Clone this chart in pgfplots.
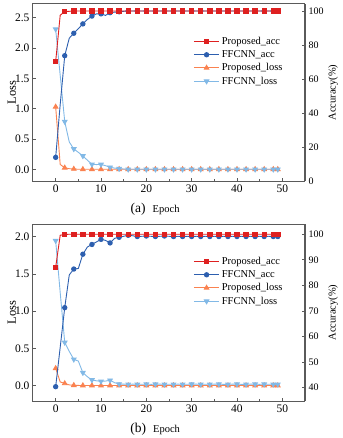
\documentclass[border=0pt]{standalone}
\usepackage{fontspec}
\setmainfont{Liberation Serif}
\usepackage{pgfplots}
\usepackage{pgfplotstable}
\pgfplotsset{compat=1.18}
\definecolor{cred}{RGB}{222,32,32}
\definecolor{cblue}{RGB}{45,95,175}
\definecolor{corange}{RGB}{250,130,80}
\definecolor{clight}{RGB}{130,185,230}
\definecolor{axgray}{RGB}{90,90,90}

\pgfplotstableread{
epoch pa fa pl fl
0 70.2 13.9 1.03 2.31
1 97.5 45.0 0.08 1.55
2 99.6 73.7 0.025 0.786
3 99.8 84.0 0.01 0.45
4 100 86.9 0.005 0.335
5 100 89.6 0 0.28
6 100 92.4 0 0.22
7 100 95.0 0 0.15
8 100 97.0 0 0.082
9 100 98.3 0 0.078
10 100 98.3 0 0.08
11 100 97.4 0 0.06
12 100 99.0 0 0.033
13 100 99.3 0 0.02
14 100 99.5 0 0.01
15 100 99.8 0 0.005
16 100 100 0 0
17 100 100 0 0
18 100 100 0 0
19 100 100 0 0
20 100 100 0 0
21 100 100 0 0
22 100 100 0 0
23 100 100 0 0
24 100 100 0 0
25 100 100 0 0
26 100 100 0 0
27 100 100 0 0
28 100 100 0 0
29 100 100 0 0
30 100 100 0 0
31 100 100 0 0
32 100 100 0 0
33 100 100 0 0
34 100 100 0 0
35 100 100 0 0
36 100 100 0 0
37 100 100 0 0
38 100 100 0 0
39 100 100 0 0
40 100 100 0 0
41 100 100 0 0
42 100 100 0 0
43 100 100 0 0
44 100 100 0 0
45 100 100 0 0
46 100 100 0 0
47 100 100 0 0
48 100 100 0 0
49 100 100 0 0
}\dataA

\pgfplotstableread{
epoch pa fa pl fl
0 87.1 40.4 0.233 1.946
1 99.6 55.8 0.05 1.25
2 99.9 71.3 0.03 0.58
3 100 84.1 0.01 0.46
4 100 86.4 0.005 0.353
5 100 86.6 0.003 0.33
6 100 92.2 0.002 0.174
7 100 95.0 0.002 0.12
8 100 96.0 0.002 0.076
9 100 97.0 0.002 0.065
10 100 98.0 0.002 0.058
11 100 97.6 0.002 0.062
12 100 96.6 0.002 0.072
13 100 98.4 0.002 0.04
14 100 98.8 0.002 0.022
15 100 99.2 0.002 0.02
16 100 99.6 0.002 0.018
17 100 99.4 0.002 0.02
18 100 99.1 0.002 0.018
19 100 99.2 0.002 0.019
20 100 99.3 0.002 0.02
21 100 99.2 0.002 0.018
22 100 99.1 0.002 0.019
23 100 99.2 0.002 0.02
24 100 99.3 0.002 0.018
25 100 99.2 0.002 0.019
26 100 99.1 0.002 0.018
27 100 99.2 0.002 0.02
28 100 99.1 0.002 0.018
29 100 99.2 0.002 0.019
30 100 99.1 0.002 0.022
31 100 99.2 0.002 0.02
32 100 99.1 0.002 0.018
33 100 99.2 0.002 0.019
34 100 99.1 0.002 0.018
35 100 99.2 0.002 0.02
36 100 99.1 0.002 0.019
37 100 99.2 0.002 0.018
38 100 99.1 0.002 0.018
39 100 99.2 0.002 0.02
40 100 99.1 0.002 0.019
41 100 99.2 0.002 0.018
42 100 99.1 0.002 0.018
43 100 99.2 0.002 0.02
44 100 99.1 0.002 0.019
45 100 99.2 0.002 0.018
46 100 99.1 0.002 0.02
47 100 99.2 0.002 0.019
48 100 99.1 0.002 0.018
49 100 99.1 0.002 0.018
}\dataB

\pgfplotsset{
  base/.style={
    scale only axis, width=272pt, height=177pt,
    xmin=-5, xmax=55,
    tick align=inside,
    major tick length=3pt, minor tick length=2pt,
    axis line style={axgray, line width=1pt},
    every tick/.style={axgray, line width=0.7pt},
    /pgf/number format/assume math mode=true,
  },
  leftax/.style={
    base,
    xtick={0,10,20,30,40,50}, minor x tick num=1,
    xtick pos=bottom, ytick pos=left,
    ticklabel style={font=\fontsize{11.5}{13}\selectfont},
    yticklabel style={/pgf/number format/fixed, /pgf/number format/precision=1, /pgf/number format/fixed zerofill},
    ylabel={Loss},
    ylabel style={at={(axis description cs:-0.078,0.5)}, anchor=center, font=\fontsize{12.5}{14}\selectfont},
    xlabel style={at={(axis description cs:0.449,-0.158)}, anchor=center},
  },
  rightax/.style={
    base,
    axis x line=none,
    axis y line*=right,
    yticklabel style={font=\fontsize{10}{11}\selectfont},
    ylabel={Accuracy(\%)},
    ylabel style={at={(axis description cs:1.103,0.5)}, anchor=center, rotate=0, font=\fontsize{10.5}{12}\selectfont},
    legend style={draw=none, fill=none, at={(0.585,0.83)}, anchor=north west,
      font=\fontsize{10.5}{12}\selectfont, row sep=0.5pt, inner sep=1pt},
    legend cell align=left,
    legend image code/.code={\draw[mark indices={2}] plot coordinates {(0cm,0cm) (0.45cm,0cm) (0.9cm,0cm)};},
  },
  markidx/.style={mark indices={1,3,5,7,9,11,13,15,17,19,21,23,25,27,29,31,33,35,37,39,41,43,45,47,49,50}},
  sPA/.style={cred, line width=0.9pt, mark=square*, mark size=2.2pt, mark options={solid}, markidx},
  sFA/.style={cblue, line width=0.9pt, mark=*, mark size=2.2pt, mark options={solid}, markidx},
  sPL/.style={corange, line width=0.9pt, mark=triangle*, mark size=2.6pt, mark options={solid}, markidx},
  sFL/.style={clight, line width=0.9pt, mark=triangle*, mark size=2.6pt, mark options={solid, rotate=180}, markidx},
}

\begin{document}
\begin{tikzpicture}
\useasboundingbox (0,0) rectangle (342pt,-438pt);
% ---------- panel (a)
\begin{axis}[leftax, at={(33pt,-4pt)}, anchor=north west,
  ymin=-0.193, ymax=2.725, ytick={0,0.5,1,1.5,2,2.5},
  xlabel={{\fontsize{13.5}{15}\selectfont (a)}\hspace{7pt}{\fontsize{10.5}{12}\selectfont Epoch}}]
\addplot[sPL] table[x=epoch,y=pl]{\dataA};
\addplot[sFL] table[x=epoch,y=fl]{\dataA};
\end{axis}
\begin{axis}[rightax, at={(33pt,-4pt)}, anchor=north west,
  ymin=0, ymax=104.1, ytick={0,20,40,60,80,100}]
\addplot[sFA] table[x=epoch,y=fa]{\dataA};
\addplot[sPA] table[x=epoch,y=pa]{\dataA};
\end{axis}
\begin{axis}[rightax, at={(33pt,-4pt)}, anchor=north west, axis y line=none,
  ymin=0, ymax=104.1, ylabel={}]
\addlegendimage{sPA}
\addlegendimage{sFA}
\addlegendimage{sPL}
\addlegendimage{sFL}
\legend{Proposed\_acc, FFCNN\_acc, Proposed\_loss, FFCNN\_loss}
\end{axis}
% ---------- panel (b)
\begin{axis}[leftax, at={(33pt,-224pt)}, anchor=north west,
  ymin=-0.206, ymax=2.17, ytick={0,0.5,1,1.5,2},
  xlabel={{\fontsize{13.5}{15}\selectfont (b)}\hspace{7pt}{\fontsize{10.5}{12}\selectfont Epoch}}]
\addplot[sPL] table[x=epoch,y=pl]{\dataB};
\addplot[sFL] table[x=epoch,y=fl]{\dataB};
\end{axis}
\begin{axis}[rightax, at={(33pt,-224pt)}, anchor=north west,
  ymin=34.8, ymax=104.0, ytick={40,50,60,70,80,90,100}]
\addplot[sFA] table[x=epoch,y=fa]{\dataB};
\addplot[sPA] table[x=epoch,y=pa]{\dataB};
\end{axis}
\begin{axis}[rightax, at={(33pt,-224pt)}, anchor=north west, axis y line=none,
  ymin=34.8, ymax=104.0, ylabel={}]
\addlegendimage{sPA}
\addlegendimage{sFA}
\addlegendimage{sPL}
\addlegendimage{sFL}
\legend{Proposed\_acc, FFCNN\_acc, Proposed\_loss, FFCNN\_loss}
\end{axis}
\end{tikzpicture}
\end{document}
